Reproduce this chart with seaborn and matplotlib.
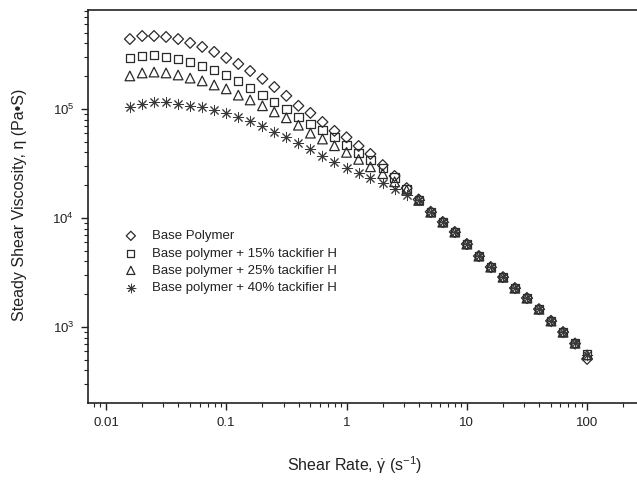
import numpy as np
import pandas as pd
import matplotlib
matplotlib.use("Agg")
import matplotlib.pyplot as plt
import seaborn as sns
from matplotlib.ticker import FixedLocator, FixedFormatter, LogLocator, NullFormatter

# ---- data ----
shear_rate = [0.0158, 0.02, 0.0251, 0.0316, 0.0398, 0.0501, 0.0631, 0.0794,
              0.1, 0.126, 0.158, 0.2, 0.251, 0.316, 0.398, 0.501, 0.631, 0.794,
              1.0, 1.26, 1.58, 2.0, 2.51, 3.16, 3.98, 5.01, 6.31, 7.94,
              10.0, 12.6, 15.8, 20.0, 25.1, 31.6, 39.8, 50.1, 63.1, 79.4, 100.0]

base_polymer = [4.38e5, 4.67e5, 4.67e5, 4.58e5, 4.38e5, 4.04e5, 3.71e5, 3.34e5,
                2.94e5, 2.59e5, 2.23e5, 1.89e5, 1.59e5, 1.32e5, 1.07e5, 9.2e4,
                7.6e4, 6.3e4, 5.5e4, 4.58e4, 3.87e4, 3.06e4, 2.43e4, 1.88e4,
                14800, 11400, 9200, 7450, 5780, 4480, 3550, 2870, 2280, 1850,
                1460, 1140, 900, 705, 510]

tack_15 = [2.94e5, 3.06e5, 3.13e5, 3.0e5, 2.88e5, 2.7e5, 2.48e5, 2.28e5,
           2.05e5, 1.81e5, 1.56e5, 1.34e5, 1.16e5, 1.0e5, 8.45e4, 7.3e4,
           6.4e4, 5.5e4, 4.68e4, 3.95e4, 3.4e4, 2.88e4, 2.35e4, 1.85e4,
           14600, 11350, 9190, 7440, 5770, 4480, 3550, 2870, 2280, 1850,
           1460, 1140, 900, 713, 560]

tack_25 = [2.01e5, 2.14e5, 2.18e5, 2.14e5, 2.05e5, 1.92e5, 1.81e5, 1.66e5,
           1.53e5, 1.34e5, 1.21e5, 1.07e5, 9.4e4, 8.3e4, 7.1e4, 6.0e4,
           5.3e4, 4.6e4, 4.0e4, 3.45e4, 2.95e4, 2.55e4, 2.15e4, 1.8e4,
           14500, 11300, 9150, 7420, 5760, 4470, 3540, 2860, 2270, 1840,
           1455, 1135, 895, 710, 555]

tack_40 = [1.04e5, 1.11e5, 1.16e5, 1.16e5, 1.11e5, 1.07e5, 1.04e5, 9.8e4,
           9.2e4, 8.4e4, 7.8e4, 7.0e4, 6.15e4, 5.5e4, 4.9e4, 4.3e4,
           3.7e4, 3.27e4, 2.88e4, 2.59e4, 2.33e4, 2.1e4, 1.85e4, 1.62e4,
           14500, 11300, 9150, 7420, 5760, 4470, 3540, 2860, 2270, 1840,
           1455, 1135, 895, 710, 555]

series_labels = ["Base Polymer",
                 "Base polymer + 15% tackifier H",
                 "Base polymer + 25% tackifier H",
                 "Base polymer + 40% tackifier H"]
x_tick_values = [0.01, 0.1, 1, 10, 100]
x_tick_labels = ["0.01", "0.1", "1", "10", "100"]

# ---- styling ----
sns.set_style("white")
plt.rcParams["font.family"] = ["Liberation Sans", "DejaVu Sans"]
plt.rcParams["mathtext.fontset"] = "custom"
plt.rcParams["mathtext.rm"] = "Liberation Sans"
plt.rcParams["mathtext.it"] = "Liberation Sans"
plt.rcParams["mathtext.bf"] = "Liberation Sans:bold"

fig = plt.figure(figsize=(6.37, 4.82), dpi=100)
ax = fig.add_axes([88 / 637, 79 / 482, 549 / 637, 393 / 482])

edge = "#2a2a2a"
styles = [
    dict(marker="D", s=30, facecolor="none", linewidth=0.9, edgecolor=edge),
    dict(marker="s", s=36, facecolor="none", linewidth=0.9, edgecolor=edge),
    dict(marker="^", s=48, facecolor="none", linewidth=0.9, edgecolor=edge),
    dict(marker=(8, 2, 0), s=55, facecolor="#3a3a3a", linewidth=0.7,
         edgecolor="#3a3a3a"),
]
all_series = [base_polymer, tack_15, tack_25, tack_40]

for vals, lab, st in zip(all_series, series_labels, styles):
    df = pd.DataFrame({"rate": shear_rate, "eta": vals})
    sns.scatterplot(data=df, x="rate", y="eta", ax=ax, label=lab,
                    color=edge, **st)

ax.set_xscale("log")
ax.set_yscale("log")
ax.set_xlim(0.00709, 260)
ax.set_ylim(201, 8.09e5)

ax.xaxis.set_major_locator(FixedLocator(x_tick_values))
ax.xaxis.set_major_formatter(FixedFormatter(x_tick_labels))
ax.xaxis.set_minor_locator(LogLocator(base=10, subs=np.arange(2, 10)))
ax.xaxis.set_minor_formatter(NullFormatter())
ax.yaxis.set_minor_locator(LogLocator(base=10, subs=np.arange(2, 10)))
ax.yaxis.set_minor_formatter(NullFormatter())

ax.tick_params(axis="both", which="major", direction="out", length=5, width=1,
               labelsize=9.5, colors="#222222", bottom=True, left=True, pad=5)
ax.tick_params(axis="both", which="minor", direction="out", length=3, width=0.8,
               bottom=True, left=True, colors="#222222")

for side in ["left", "bottom", "top"]:
    ax.spines[side].set_visible(True)
    ax.spines[side].set_color("#222222")
    ax.spines[side].set_linewidth(1.2)
ax.spines["right"].set_visible(False)

ax.set_xlabel("")
ax.set_ylabel("")
fig.text(355 / 637, 1 - 465 / 482, r"Shear Rate, $\dot{\gamma}$ (s$^{-1}$)",
         ha="center", va="center", fontsize=11.5, color="#222222")
fig.text(20 / 637, 1 - 205 / 482, "Steady Shear Viscosity, \u03b7 (Pa\u2022S)",
         ha="center", va="center", rotation=90, fontsize=11.5, color="#222222")

leg = ax.legend(loc="upper left", bbox_to_anchor=(0.066, 0.44), frameon=False,
                fontsize=9.5, handlelength=1.0, handletextpad=1.1,
                labelspacing=0.38, borderpad=0, borderaxespad=0,
                markerscale=0.85)
for t in leg.get_texts():
    t.set_color("#222222")

fig.savefig("out.png", dpi=100)
